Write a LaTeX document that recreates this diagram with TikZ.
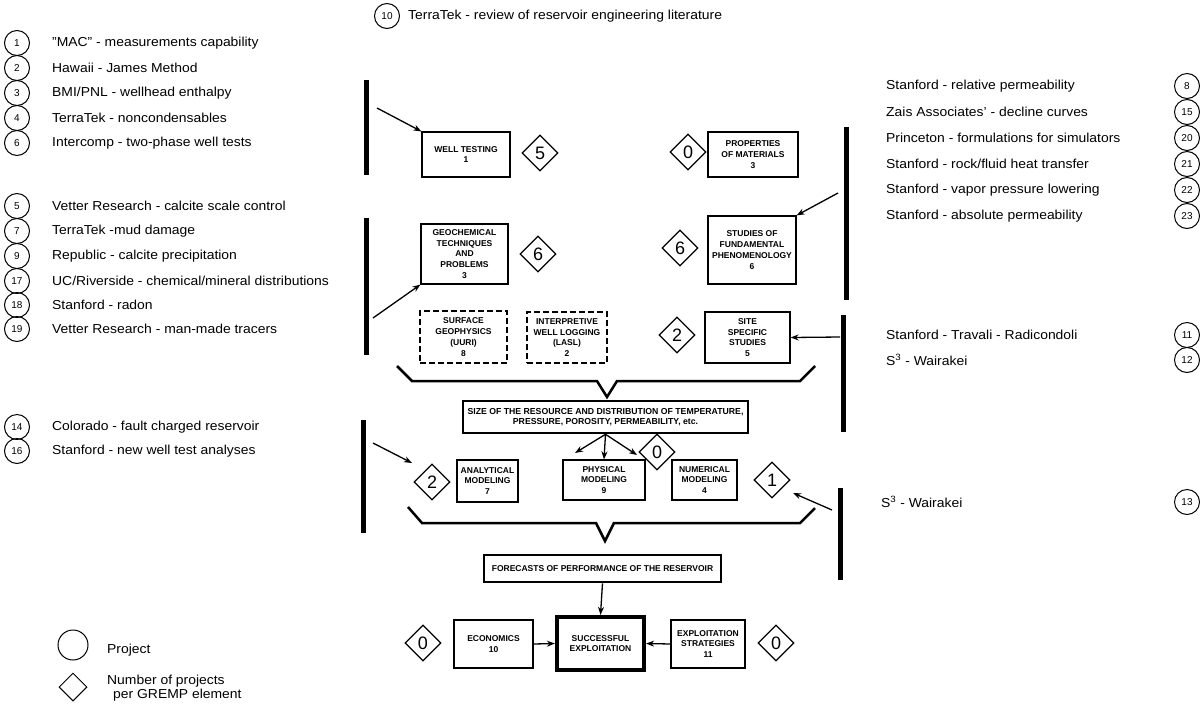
\documentclass[tikz,border=0pt]{standalone}
\usepackage{fontspec}
\setmainfont[FakeStretch=1.07]{Liberation Sans}
\newfontfamily\boxfont{Liberation Sans}
\usetikzlibrary{shapes.geometric,arrows.meta}
\tikzset{
  blk/.style={draw, line width=1.2pt, align=center, inner sep=0pt,
    font=\boxfont\bfseries\fontsize{8.5}{10.8}\selectfont},
  dbox/.style={blk, dash pattern=on 6pt off 3pt, line width=1.6pt},
  thickbox/.style={blk, line width=2.6pt},
  heavybox/.style={blk, line width=4.2pt},
  dia/.style={draw, diamond, line width=1.2pt, minimum width=36pt, minimum height=36pt,
    inner sep=0pt, font=\boxfont\fontsize{18}{18}\selectfont},
  proj/.style={draw, circle, line width=1pt, minimum size=25pt, inner sep=0pt,
    font=\boxfont\fontsize{10}{10}\selectfont},
  lbl/.style={anchor=west, inner sep=0pt, font=\fontsize{13}{13}\selectfont},
  bar/.style={line width=5pt},
  arr/.style={line width=1.3pt, -{Stealth[length=8pt,width=6pt]}},
  brace/.style={line width=2.5pt, line join=miter},
}
\begin{document}
\begin{tikzpicture}[x=1pt,y=-1pt]
\useasboundingbox[fill=white] (0,0) rectangle (1202,705);

% top item
\node[proj] (p10) at (387,16) {10};
\node[lbl] (t10) at (408,16) {TerraTek - review of reservoir engineering literature};

% left list
\foreach \n/\y/\t in {
  1/43/{''MAC'' - measurements capability},
  2/68/{Hawaii - James Method},
  3/93/{BMI/PNL - wellhead enthalpy},
  4/118/{TerraTek - noncondensables},
  6/143/{Intercomp - two-phase well tests},
  5/206/{Vetter Research - calcite scale control},
  7/231/{TerraTek -mud damage},
  9/256/{Republic - calcite precipitation},
  17/281/{UC/Riverside - chemical/mineral distributions},
  18/305/{Stanford - radon},
  19/329/{Vetter Research - man-made tracers},
  14/427/{Colorado - fault charged reservoir},
  16/451/{Stanford - new well test analyses}}{
  \node[proj] (pl\n) at (17,\y) {\n};
  \node[lbl] (tl\n) at (52,\y) {\t};
}

% right list
\foreach \n/\y/\t/\xx in {
  8/86/{Stanford - relative permeability}/886,
  15/112/{Zais Associates' - decline curves}/886,
  20/138/{Princeton - formulations for simulators}/886,
  21/164/{Stanford - rock/fluid heat transfer}/886,
  22/190/{Stanford - vapor pressure lowering}/886,
  23/216/{Stanford - absolute permeability}/886,
  11/335/{Stanford - Travali - Radicondoli}/886,
  12/360/{S\textsuperscript{3} - Wairakei}/886,
  13/502/{S\textsuperscript{3} - Wairakei}/881}{
  \node[proj] (pr\n) at (1187,\y) {\n};
  \node[lbl] (tr\n) at (\xx,\y) {\t};
}

% boxes
\node[blk, minimum width=88pt, minimum height=45pt] (well) at (466,154.5) {WELL TESTING\\1};
\node[blk, minimum width=90pt, minimum height=45pt] (prop) at (753,154.5) {PROPERTIES\\OF MATERIALS\\3};
\node[blk, minimum width=87pt, minimum height=60pt] (geo) at (464.5,254) {GEOCHEMICAL\\TECHNIQUES\\AND\\PROBLEMS\\3};
\node[blk, minimum width=88pt, minimum height=68pt] (stud) at (752,250) {STUDIES OF\\FUNDAMENTAL\\PHENOMENOLOGY\\6};
\node[dbox, minimum width=87pt, minimum height=52pt] (surf) at (463.5,337) {SURFACE\\GEOPHYSICS\\(UURI)\\8};
\node[dbox, minimum width=80pt, minimum height=51pt] (interp) at (567,337.5) {INTERPRETIVE\\WELL LOGGING\\(LASL)\\2};
\node[blk, minimum width=85pt, minimum height=51pt] (site) at (747.5,337.5) {SITE\\SPECIFIC\\STUDIES\\5};
\node[thickbox, minimum width=285pt, minimum height=32pt, font=\boxfont\bfseries\fontsize{8.7}{10.5}\selectfont] (size) at (605.5,417) {SIZE OF THE RESOURCE AND DISTRIBUTION OF TEMPERATURE,\\PRESSURE, POROSITY, PERMEABILITY, etc.};
\node[blk, minimum width=61pt, minimum height=42pt] (anal) at (487.5,481) {ANALYTICAL\\MODELING\\7};
\node[blk, minimum width=82pt, minimum height=40pt] (phys) at (604,480) {PHYSICAL\\MODELING\\9};
\node[blk, minimum width=65pt, minimum height=40pt] (num) at (704.5,480) {NUMERICAL\\MODELING\\4};
\node[thickbox, minimum width=237pt, minimum height=27pt] (fore) at (602.5,568.5) {FORECASTS OF PERFORMANCE OF THE RESERVOIR};
\node[heavybox, minimum width=87pt, minimum height=53pt] (succ) at (600.5,643.5) {SUCCESSFUL\\EXPLOITATION};
\node[blk, minimum width=79pt, minimum height=48pt] (econ) at (493.5,644) {ECONOMICS\\10};
\node[blk, minimum width=74pt, minimum height=48pt] (expl) at (708,644) {EXPLOITATION\\STRATEGIES\\11};

% diamonds
\node[dia] (d5) at (540,153) {5};
\node[dia] (d0a) at (688,152) {0};
\node[dia] (d6a) at (538,254) {6};
\node[dia] (d6b) at (680,248) {6};
\node[dia] (d2a) at (677,335) {2};
\node[dia] (d2b) at (432,482) {2};
\node[dia] (d0b) at (657,452) {0};
\node[dia] (d1) at (772,480) {1};
\node[dia] (d0c) at (423,643) {0};
\node[dia] (d0d) at (776,643) {0};

% bars
\draw[bar] (366,80) -- (366,175);
\draw[bar] (366,218) -- (366,355);
\draw[bar] (363,420) -- (363,533);
\draw[bar] (846,127) -- (846,300);
\draw[bar] (843,315) -- (843,432);
\draw[bar] (840,488) -- (840,580);

% braces
\draw[brace] (397,366) -- (412,381) -- (597,381) -- (607,397) -- (617,381) -- (800,381) -- (815,366);
\draw[brace] (408,507) -- (422,523) -- (596,523) -- (605,541) -- (614,523) -- (800,523) -- (815,508);

% arrow start points
\coordinate (a1) at (377,108);
\coordinate (a2) at (373,318);
\coordinate (a3) at (838,193);
\coordinate (a4) at (840,337);
\coordinate (a5) at (373,443);
\coordinate (a6) at (832,510);
\coordinate (t5) at (412,463);
\coordinate (t6) at (793,493);
\coordinate (s1) at (575,453);
\coordinate (s3) at (637,455);

\draw[arr] (a1) -- (well.north west);
\draw[arr] (a2) -- (geo.south west);
\draw[arr] (a3) -- (stud.north east);
\draw[arr] (a4) -- (site.east);
\draw[arr] (a5) -- (t5);
\draw[arr] (a6) -- (t6);
\draw[arr] (size.south) -- (s1);
\draw[arr] (size.south) -- (phys.north);
\draw[arr] (size.south) -- (s3);
\draw[arr] (fore.south) -- (succ.north);
\draw[arr] (econ.east) -- (succ.west);
\draw[arr] (expl.west) -- (succ.east);

% legend
\node[draw, circle, line width=1pt, minimum size=30pt] (lc) at (73,645) {};
\node[draw, diamond, line width=1pt, minimum width=28pt, minimum height=28pt, inner sep=0pt] (ld) at (73,687) {};
\node[lbl] (lt1) at (107,650) {Project};
\node[lbl, align=left, font=\fontsize{13}{14}\selectfont] (lt2) at (107,688) {Number of projects\\\hspace*{6pt}per GREMP element};
\end{tikzpicture}
\end{document}
